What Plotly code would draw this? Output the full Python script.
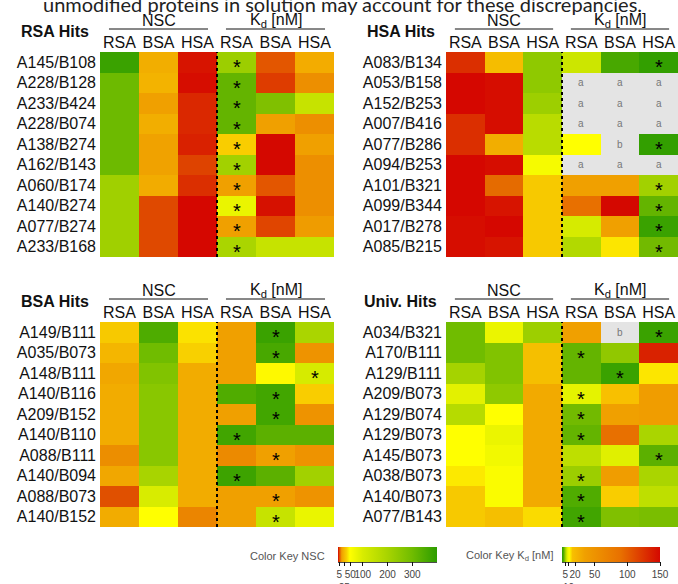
import plotly.graph_objects as go

W, H = 678, 584

def px(p):
    return p / W

def py(p):
    return 1 - p / H

# ---------------- data ----------------
col_labels = ["RSA", "BSA", "HSA", "RSA", "BSA", "HSA"]

rsa_title = "RSA Hits"
rsa_rows = ["A145/B108", "A228/B128", "A233/B424", "A228/B074", "A138/B274",
            "A162/B143", "A060/B174", "A140/B274", "A077/B274", "A233/B168"]
rsa_nsc = [[380, 21, 1.5], [305, 23, 1], [305, 15, 3], [305, 21, 3], [305, 16, 2.5],
           [305, 16, 5], [215, 20, 3.5], [215, 5.5, 0.5], [215, 5.5, 0.5], [215, 5.5, 0.5]]
rsa_kd = [[5, 105, 28], [3, 120, 55], [3, 4, 6.7], [3, 35, 55], [15, 150, 35],
          [5.2, 150, 55], [35, 105, 55], [9, 145, 55], [35, 115, 40], [5.5, 6.7, 6.7]]
rsa_marks = [["*", "", ""]] * 10

hsa_title = "HSA Hits"
hsa_rows = ["A083/B134", "A053/B158", "A152/B253", "A007/B416", "A077/B286",
            "A094/B253", "A101/B321", "A099/B344", "A017/B278", "A085/B215"]
hsa_nsc = [[3.5, 27, 245], [0.5, 1, 245], [0.5, 1, 220], [3.5, 1, 165], [3.5, 21, 165],
           [0.5, 1, 60], [0.5, 9, 32], [0.5, 1.5, 32], [1, 0.5, 32], [1, 1.5, 32]]
hsa_kd = [[7, 2, 0.5], [None, None, None], [None, None, None], [None, None, None],
          [11, None, 0.5], [None, None, None], [35, 35, 5.2], [90, 150, 3],
          [7.5, 35, 1], [5.8, 13, 3.5]]
hsa_marks = [["", "", "*"], ["a", "a", "a"], ["a", "a", "a"], ["a", "a", "a"],
             ["", "b", "*"], ["a", "a", "a"], ["", "", "*"], ["", "", "*"],
             ["", "", "*"], ["", "", "*"]]

bsa_title = "BSA Hits"
bsa_rows = ["A149/B111", "A035/B073", "A148/B111", "A140/B116", "A209/B152",
            "A140/B110", "A088/B111", "A140/B094", "A088/B073", "A140/B152"]
bsa_nsc = [[32, 350, 40], [24, 300, 35], [18, 270, 20], [20, 255, 20], [20, 255, 20],
           [20, 255, 20], [13, 255, 20], [18, 200, 20], [6, 100, 20], [20, 48, 12]]
bsa_kd = [[35, 1, 5.5], [35, 2, 50], [35, 11.5, 7.5], [2.3, 1.6, 15], [35, 1.6, 50],
          [1.5, 2.7, 2.7], [60, 35, 50], [1.2, 2.7, 5.2], [35, 35, 50], [35, 6.7, 9]]
bsa_marks = [["", "*", ""], ["", "*", ""], ["", "", "*"], ["", "*", ""], ["", "*", ""],
             ["*", "", ""], ["", "*", ""], ["*", "", ""], ["", "*", ""], ["", "*", ""]]

uni_title = "Univ. Hits"
uni_rows = ["A034/B321", "A170/B111", "A129/B111", "A209/B073", "A129/B074",
            "A129/B073", "A145/B073", "A038/B073", "A140/B073", "A077/B143"]
uni_nsc = [[300, 75, 220], [300, 270, 28], [205, 270, 28], [85, 245, 19], [170, 48, 19],
           [48, 75, 19], [48, 65, 19], [42, 55, 19], [32, 55, 19], [32, 28, 38]]
uni_kd = [[35, None, 1], [3, 4.6, 135], [3, 1, 13], [8.5, 16, 38], [3.5, 35, 38],
          [3, 90, 5.5], [6.3, 8, 2.7], [5, 38, 5.5], [2.3, 15, 6.3], [1.5, 4, 3.8]]
uni_marks = [["", "b", "*"], ["*", "", ""], ["", "*", ""], ["*", "", ""], ["*", "", ""],
             ["*", "", ""], ["", "", "*"], ["*", "", ""], ["*", "", ""], ["*", "", ""]]

nsc_key_ticks = [5, 25, 50, 100, 200, 300]
nsc_key_text = ["5", "<br>25", "50", "100", "200", "300"]
kd_key_ticks = [5, 10, 20, 50, 100, 150]
kd_key_text = ["5", "<br>10", "20", "50", "100", "150"]

caption = "unmodified proteins in solution may account for these discrepancies."

# ---------------- styles ----------------
NSC_MAX, KD_MAX = 400, 150
nsc_scale = [[0 / 400, "#d40000"], [6 / 400, "#e05000"], [15 / 400, "#f0a000"],
             [35 / 400, "#f8d000"], [48 / 400, "#ffff00"], [100 / 400, "#d8ec00"],
             [200 / 400, "#a8d400"], [300 / 400, "#70bc00"], [1.0, "#2c9c00"]]
kd_scale = [[0 / 150, "#2c9c00"], [2 / 150, "#48a800"], [4 / 150, "#80c000"],
            [6 / 150, "#b8dc00"], [8 / 150, "#e0f000"], [11 / 150, "#ffff00"],
            [16 / 150, "#f8c000"], [35 / 150, "#f0a000"], [90 / 150, "#e87000"],
            [1.0, "#d40800"]]

FONT = "Arial, Liberation Sans, sans-serif"
TXT = "#111"

panels = [
    (rsa_title, rsa_rows, rsa_nsc, rsa_kd, rsa_marks, (100, 334), (52, 257)),
    (hsa_title, hsa_rows, hsa_nsc, hsa_kd, hsa_marks, (446, 678), (52, 257)),
    (bsa_title, bsa_rows, bsa_nsc, bsa_kd, bsa_marks, (100, 334), (322, 527)),
    (uni_title, uni_rows, uni_nsc, uni_kd, uni_marks, (446, 678), (322, 527)),
]


def ann(**kw):
    d = dict(showarrow=False, xanchor="center", yanchor="middle")
    d.update(kw)
    return d


fig = go.Figure()
annotations = []
shapes = []
layout_axes = {}

for i, (title, rows, nsc, kd, marks, (xl, xr), (yt, yb)) in enumerate(panels):
    sfx = "" if i == 0 else str(i + 1)
    xa, ya = "x" + sfx, "y" + sfx
    fig.add_trace(go.Heatmap(z=nsc, x=[0, 1, 2], y=rows, coloraxis="coloraxis",
                             xaxis=xa, yaxis=ya, hoverinfo="skip"))
    fig.add_trace(go.Heatmap(z=kd, x=[3, 4, 5], y=rows, coloraxis="coloraxis2",
                             xaxis=xa, yaxis=ya, hoverinfo="skip"))
    layout_axes["xaxis" + sfx] = dict(
        domain=[px(xl), px(xr)], range=[-0.5, 5.5], autorange=False, side="top",
        anchor=ya, tickmode="array", tickvals=list(range(6)), ticktext=col_labels,
        tickfont=dict(size=16, color=TXT, family=FONT), ticks="",
        showgrid=False, zeroline=False, showline=False, fixedrange=True,
        automargin=False)
    layout_axes["yaxis" + sfx] = dict(
        domain=[py(yb), py(yt)], anchor=xa, type="category",
        categoryorder="array", categoryarray=rows, autorange=False,
        range=[len(rows) - 0.5, -0.5],
        tickfont=dict(size=16, color=TXT, family=FONT), ticks="",
        ticklabelstandoff=3,
        showgrid=False, zeroline=False, showline=False, fixedrange=True,
        automargin=False)
    # headers
    annotations.append(ann(text="<b>%s</b>" % title, xref="paper", yref="paper",
                           x=px(xl - 45), y=py(yt - 21),
                           font=dict(size=16, color=TXT, family=FONT)))
    annotations.append(ann(text="NSC", xref=xa, yref="paper", x=1, y=py(yt - 32),
                           font=dict(size=16, color=TXT, family=FONT)))
    annotations.append(ann(text="K<sub>d</sub> [nM]", xref=xa, yref="paper", x=4,
                           y=py(yt - 32), font=dict(size=16, color=TXT, family=FONT)))
    for g0 in (0, 3):
        shapes.append(dict(type="line", xref=xa, yref="paper",
                           x0=g0 - 0.5 + 0.23, x1=g0 + 2.5 - 0.23,
                           y0=py(yt - 23), y1=py(yt - 23),
                           line=dict(color=TXT, width=1)))
    shapes.append(dict(type="line", xref=xa, yref=ya + " domain", x0=2.5, x1=2.5,
                       y0=0, y1=1, line=dict(color="black", width=2, dash="dot")))
    # marks
    for r, row in enumerate(rows):
        for c, m in enumerate(marks[r]):
            if m == "*":
                annotations.append(ann(text="*", xref=xa, yref=ya, x=3 + c, y=row,
                                       yshift=-5,
                                       font=dict(size=20, color="black", family=FONT)))
            elif m:
                annotations.append(ann(text=m, xref=xa, yref=ya, x=3 + c, y=row,
                                       font=dict(size=10, color="#777", family=FONT)))

# color keys
annotations.append(ann(text="Color Key NSC", xref="paper", yref="paper", x=px(327),
                       y=py(556), xanchor="right",
                       font=dict(size=11, color="#555", family=FONT)))
annotations.append(ann(text="Color Key K<sub>d</sub> [nM]", xref="paper", yref="paper",
                       x=px(555), y=py(556), xanchor="right",
                       font=dict(size=11, color="#555", family=FONT)))
shapes.append(dict(type="line", xref="paper", yref="paper", x0=px(338), x1=px(437),
                   y0=py(562), y1=py(562), line=dict(color=TXT, width=1.5)))
shapes.append(dict(type="line", xref="paper", yref="paper", x0=px(562), x1=px(660),
                   y0=py(562), y1=py(562), line=dict(color=TXT, width=1.5)))

# caption (cut off at the top edge)
annotations.append(ann(text=caption, xref="paper", yref="paper", x=px(342), y=py(4),
                       font=dict(size=20, color="#222", family="Lato")))

cb_common = dict(orientation="h", xanchor="left", yanchor="top", lenmode="pixels",
                 thickness=15, thicknessmode="pixels", xpad=0, ypad=0, outlinewidth=0,
                 ticks="outside", ticklen=4, tickwidth=1, tickcolor=TXT, tickangle=0,
                 tickfont=dict(size=10, color="#444", family=FONT))

fig.update_layout(
    width=W, height=H, margin=dict(l=0, r=0, t=0, b=0, pad=0, autoexpand=False),
    template="none", paper_bgcolor="white", plot_bgcolor="#e4e4e4",
    font=dict(family=FONT), showlegend=False,
    coloraxis=dict(cmin=0, cmax=NSC_MAX, colorscale=nsc_scale,
                   colorbar=dict(x=px(338), y=py(547), len=99, tickmode="array",
                                 tickvals=nsc_key_ticks, ticktext=nsc_key_text,
                                 **cb_common)),
    coloraxis2=dict(cmin=0, cmax=KD_MAX, colorscale=kd_scale,
                    colorbar=dict(x=px(562), y=py(547), len=98, tickmode="array",
                                  tickvals=kd_key_ticks, ticktext=kd_key_text,
                                  **cb_common)),
    annotations=annotations, shapes=shapes, **layout_axes)

fig.write_html("out.html", config={"displayModeBar": False},
               post_script="document.body.style.margin='0px';"
                           "document.body.style.overflow='hidden';")
